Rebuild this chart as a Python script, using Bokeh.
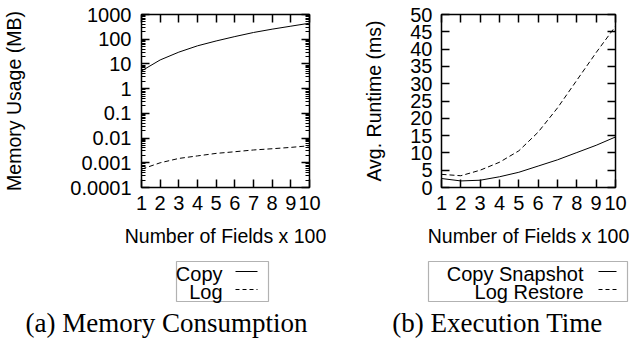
from bokeh.plotting import figure
from bokeh.models import (LinearAxis, LogAxis, FixedTicker, Label, BoxAnnotation, Arrow, Range1d)
from bokeh.layouts import row, column
from bokeh.embed import file_html
from bokeh.resources import INLINE

# ---------------- data ----------------
fields = [1, 2, 3, 4, 5, 6, 7, 8, 9, 10]
copy_mem = [5.2, 14.5, 30, 54, 85, 128, 187, 255, 337, 445]
log_mem = [0.00055, 0.001, 0.0015, 0.0019, 0.0024, 0.0028, 0.0033, 0.0037, 0.0042, 0.0049]
copy_time = [2.6, 1.9, 2.1, 3.1, 4.4, 6.2, 8.0, 10.1, 12.2, 14.6]
log_time = [3.8, 3.4, 5.0, 7.3, 10.6, 16.0, 23.0, 31.0, 39.0, 46.6]

x_ticks = [1, 2, 3, 4, 5, 6, 7, 8, 9, 10]
mem_ticks = [0.0001, 0.001, 0.01, 0.1, 1, 10, 100, 1000]
mem_tick_labels = ["0.0001", "0.001", "0.01", "0.1", "1", "10", "100", "1000"]
time_ticks = [0, 5, 10, 15, 20, 25, 30, 35, 40, 45, 50]

x_title = "Number of Fields x 100"
mem_title = "Memory Usage (MB)"
time_title = "Avg. Runtime (ms)"
mem_legend = ["Copy", "Log"]
time_legend = ["Copy Snapshot", "Log Restore"]
captions = ["(a) Memory Consumption", "(b) Execution Time"]

SANS = "Liberation Sans"
SERIF = "Liberation Serif"
FS = "20px"
TOP_H = 256
BOT_H = 339 - TOP_H

mem_minor = [m * d for d in mem_ticks[:-1] for m in range(2, 10)]


def style_axis(ax, labels=True):
    ax.axis_line_color = None
    ax.major_tick_in = 8
    ax.major_tick_out = 0
    ax.minor_tick_in = 4
    ax.minor_tick_out = 0
    ax.major_tick_line_width = 1.5
    ax.minor_tick_line_width = 1.2
    ax.major_tick_line_color = "black"
    ax.minor_tick_line_color = "black"
    ax.major_label_text_font = SANS
    ax.major_label_text_color = "black"
    ax.axis_label_text_font = SANS
    ax.axis_label_text_font_style = "normal"
    ax.axis_label_text_color = "black"
    if labels:
        ax.major_label_text_font_size = FS
        ax.axis_label_text_font_size = "19.5px"
    else:
        ax.major_label_text_font_size = "1px"
        ax.major_label_text_color = None
        ax.major_label_standoff = 0


def make_fig(width, left, frame_w, y_type, y_range):
    p = figure(width=width, height=TOP_H, output_backend="svg", toolbar_location=None,
               x_range=Range1d(1, 10), y_range=y_range, y_axis_type=y_type,
               min_border_left=left, min_border_right=width - left - frame_w,
               min_border_top=14, min_border_bottom=TOP_H - 14 - 173)
    p.frame_align = False
    p.grid.visible = False
    p.outline_line_color = "black"
    p.outline_line_width = 1.5
    p.background_fill_color = "white"
    p.border_fill_color = "white"
    return p


def make_bottom(width, labels, box, text_right, line_x, y_base, y_line, caption, cap_x):
    q = figure(width=width, height=BOT_H, output_backend="svg", toolbar_location=None,
               x_range=Range1d(0, width), y_range=Range1d(0, BOT_H),
               x_axis_location=None, y_axis_location=None,
               min_border_left=0, min_border_right=0, min_border_top=0, min_border_bottom=0)
    q.frame_align = False
    q.grid.visible = False
    q.outline_line_color = None
    q.border_fill_color = "white"
    q.add_layout(BoxAnnotation(left=box[0], right=box[1], top=box[2], bottom=box[3],
                               left_units="screen", right_units="screen",
                               top_units="screen", bottom_units="screen",
                               fill_alpha=0, line_color="black", line_width=1.2))
    dashes = ["solid", "4 3"]
    for i, lab in enumerate(labels):
        q.add_layout(Label(x=text_right, y=y_base[i], x_units="screen", y_units="screen",
                           text=lab, text_align="right", text_baseline="alphabetic",
                           text_font=SANS, text_font_size=FS, text_color="black"))
        q.add_layout(Arrow(x_start=line_x[0], y_start=y_line[i], x_end=line_x[1], y_end=y_line[i],
                           start_units="screen", end_units="screen", end=None,
                           line_color="black", line_width=1, line_dash=dashes[i]))
    q.add_layout(Label(x=cap_x, y=17, x_units="screen", y_units="screen", text=caption,
                       text_align="center", text_baseline="alphabetic",
                       text_font=SERIF, text_font_size="27px", text_color="black"))
    return q


# ---------------- (a) memory ----------------
W1 = 326
p1 = make_fig(W1, 136, 173, "log", Range1d(0.0001, 1000))
p1.line(fields, copy_mem, line_color="black", line_width=1)
p1.line(fields, log_mem, line_color="black", line_width=1, line_dash="5 3")
p1.xaxis.ticker = FixedTicker(ticks=x_ticks)
p1.yaxis.ticker = FixedTicker(ticks=mem_ticks, minor_ticks=mem_minor)
p1.yaxis.major_label_overrides = {t: l for t, l in zip(mem_ticks, mem_tick_labels)}
for ax in p1.xaxis + p1.yaxis:
    style_axis(ax)
p1.xaxis.major_label_standoff = 8
p1.yaxis.major_label_standoff = 10
p1.xaxis.axis_label = x_title
p1.xaxis.axis_label_standoff = 12
p1.yaxis.axis_label = mem_title
p1.yaxis.axis_label_standoff = 42
ax_top = LinearAxis(ticker=FixedTicker(ticks=x_ticks))
style_axis(ax_top, labels=False)
p1.add_layout(ax_top, "above")
ax_r = LogAxis(ticker=FixedTicker(ticks=mem_ticks, minor_ticks=mem_minor))
style_axis(ax_r, labels=False)
p1.add_layout(ax_r, "right")
q1 = make_bottom(W1, mem_legend, (176, 268, 78, 38), 222, (235, 257), (66, 48), (68, 50),
                 captions[0], 166)

# ---------------- (b) time ----------------
W2 = 631 - W1
L2 = 441 - W1
p2 = make_fig(W2, L2, 174, "linear", Range1d(0, 50))
p2.line(fields, copy_time, line_color="black", line_width=1)
p2.line(fields, log_time, line_color="black", line_width=1, line_dash="5 3")
p2.xaxis.ticker = FixedTicker(ticks=x_ticks)
p2.yaxis.ticker = FixedTicker(ticks=time_ticks)
for ax in p2.xaxis + p2.yaxis:
    style_axis(ax)
p2.xaxis.major_label_standoff = 8
p2.yaxis.major_label_standoff = 9
p2.xaxis.axis_label = x_title
p2.xaxis.axis_label_standoff = 12
p2.yaxis.axis_label = time_title
p2.yaxis.axis_label_standoff = 22
ax_top2 = LinearAxis(ticker=FixedTicker(ticks=x_ticks))
style_axis(ax_top2, labels=False)
p2.add_layout(ax_top2, "above")
ax_r2 = LinearAxis(ticker=FixedTicker(ticks=time_ticks))
style_axis(ax_r2, labels=False)
p2.add_layout(ax_r2, "right")
q2 = make_bottom(W2, time_legend, (428 - W1, 627 - W1, 78, 38), 583 - W1, (598 - W1, 616 - W1),
                 (66, 48), (68, 50), captions[1], 497 - W1)

layout = row(column(p1, q1), column(p2, q2))
open("out.html", "w").write(file_html(layout, INLINE))
